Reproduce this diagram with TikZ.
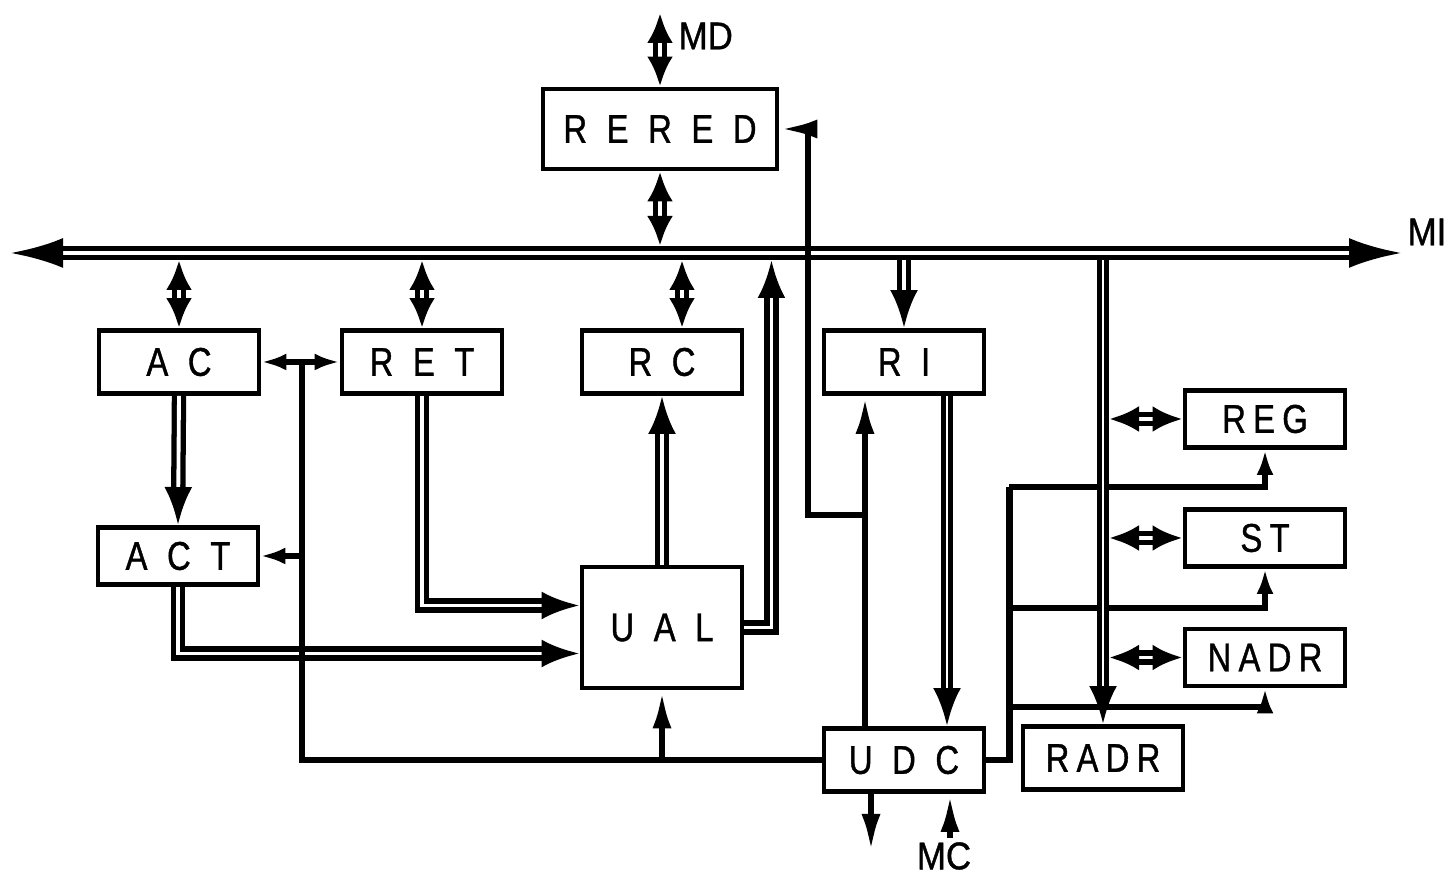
\documentclass[tikz,border=0pt]{standalone}
\usepackage{fontspec}
\usetikzlibrary{arrows.meta}
\newfontfamily\blkfont[FakeStretch=0.82,FakeBold=1,LetterSpace=26]{Liberation Sans}
\newfontfamily\regfont[FakeStretch=0.82,FakeBold=1,LetterSpace=18]{Liberation Sans}
\newfontfamily\busfont[FakeStretch=0.9,FakeBold=1]{Liberation Sans}

\begin{document}
\begin{tikzpicture}[
      blk/.style={draw,line width=1.4pt,minimum width=1.6cm,minimum height=0.63cm,
        inner sep=0pt,font=\blkfont\fontsize{11.4}{13}\selectfont},
      rbox/.style={blk,font=\regfont\fontsize{11.4}{13}\selectfont},
      sig/.style={line width=1.8pt},
      dbus/.style={double,line width=1.5pt,double distance=1.1pt},
      ar/.style={-{Latex[length=3.8mm,width=1.9mm]}},
      sar/.style={-{Latex[length=2.5mm,width=1.7mm]}},
      dar/.style={-{Latex[length=3.8mm,width=2.8mm]}},
      bidar/.style={{Latex[length=3mm,width=2.6mm]}-{Latex[length=3mm,width=2.6mm]}},
      lab/.style={font=\busfont\fontsize{11}{13}\selectfont,inner sep=0pt}]
    \useasboundingbox (0,0) rectangle (14.55,8.75);
    \coordinate (bl) at (0.10,6.22);
    \coordinate (br) at (14.02,6.22);
    \coordinate (mi-t) at (0,6.29);
    \coordinate (mi-b) at (0,6.15);
    \draw[dbus,{Latex[length=5.3mm,width=3mm]}-{Latex[length=5.3mm,width=3mm]}] (bl) -- (br);
    \node[lab,anchor=west] (mi) at (14.07,6.43) {MI};

    \node[blk,minimum width=2.34cm,minimum height=0.8cm] (rered) at (6.60,7.46) {R E R E D};
    \coordinate (md) at (6.60,8.62);
    \draw[dbus,bidar] (rered.north) -- (md);
    \node[lab,anchor=west] (mdl) at (6.78,8.39) {MD};
    \draw[dbus,bidar] (rered.south) -- (rered.south |- mi-t);

    \foreach \n/\x/\t in {ac/1.79/A C, ret/4.22/R E T, rc/6.62/R C, ri/9.04/R I}
      \node[blk] (\n) at (\x,5.13) {\t};
    \node[blk,minimum height=0.57cm] (act) at (1.78,3.19) {A C T};
    \node[blk,minimum height=1.21cm] (ual) at (6.62,2.475) {U A L};
    \node[blk] (udc) at (9.04,1.15) {U D C};
    \foreach \n/\y/\t in {reg/4.56/REG, st/3.37/ST, nadr/2.175/NADR}
      \node[rbox,minimum height=0.57cm] (\n) at (12.65,\y) {\t};
    \node[rbox] (radr) at (11.03,1.17) {RADR};

    \foreach \n in {ac,ret}
      \draw[dbus,bidar] (\n.north) -- (\n.north |- mi-b);
    \draw[dbus,bidar] ([xshift=2mm]rc.north) coordinate (rc1) -- (rc1 |- mi-b);
    \draw[dbus,dar] (ri.north |- mi-b) -- (ri.north);
    \draw[dbus,dar] (ual.east) -- ++(0.27,0) coordinate (u1) -- (u1 |- mi-b);
    \draw[dbus,dar] (ac.south) -- (act.north);
    \draw[dbus,dar] (act.south) |- ([yshift=-2.6mm]ual.west);
    \draw[dbus,dar] (ret.south) |- ([yshift=2.2mm]ual.west);
    \draw[dbus,dar] (ual.north) -- (rc.south);

    \coordinate (ctl) at (3.02,5.13);
    \draw[sig] (udc.west) -| (ctl);
    \draw[sig,sar] (ctl) -- (ac.east);
    \draw[sig,sar] (ctl) -- (ret.west);
    \draw[sig,sar] (act.east -| ctl) -- (act.east);
    \draw[sig,ar] (ual.south |- udc.west) -- (ual.south);

    \draw[sig,ar] ([xshift=-3.9mm]udc.north) coordinate (u2) -- coordinate[pos=0.64] (fb) (u2 |- ri.south);
    \draw[sig,ar] (fb) -- ++(-0.57,0) |- (rered.east);
    \draw[dbus,double distance=0.3pt,dar] ([xshift=4.3mm]ri.south) coordinate (r3) -- (r3 |- udc.north);
    \draw[sig,ar] ([xshift=-3.3mm]udc.south) -- ++(0,-0.58);
    \coordinate (mc) at (9.50,0.37);
    \draw[sig,ar] (mc) -- (mc |- udc.south);
    \node[lab] (mcl) at (9.44,0.19) {MC};

    \draw[sig] (udc.east) -- ++(0.23,0) coordinate (t0) -- ++(0,2.73);
    \foreach \n/\y in {reg/3.88, st/2.67, nadr/1.68}
      \draw[sig,sar] (t0 |- 0,\y) -| (\n.south);

    \draw[dbus,double distance=0.3pt,dar] (radr.north |- mi-b) coordinate (rb) -- (radr.north);
    \foreach \n in {reg,st,nadr}
      \draw[dbus,bidar,shorten <=0.6mm] (\n.west -| rb) -- (\n.west);
  \end{tikzpicture}
\end{document}
